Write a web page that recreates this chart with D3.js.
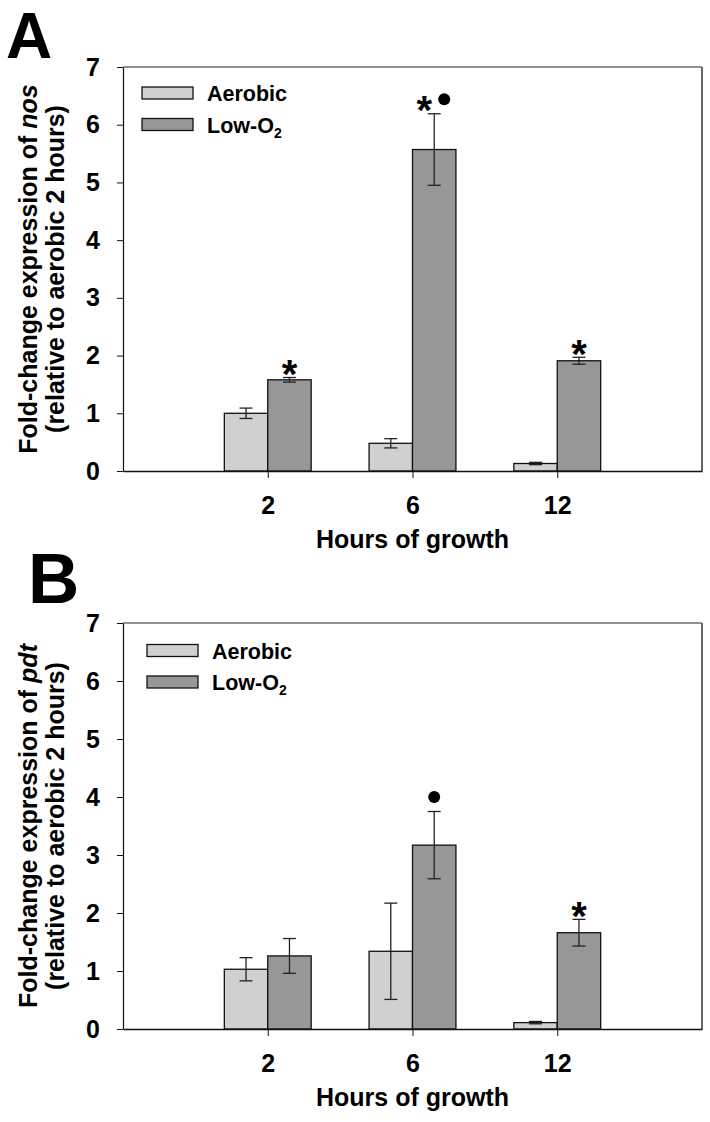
<!DOCTYPE html>
<html>
<head>
<meta charset="utf-8">
<script src="https://cdn.jsdelivr.net/npm/d3@7"></script>
<style>
  html, body { margin: 0; padding: 0; background: #fff; }
  svg { display: block; }
  text { font-family: "Liberation Sans", Arial, sans-serif; font-weight: bold; fill: #000; }
</style>
</head>
<body>
<svg id="chart" width="710" height="1122"></svg>
<script>
// ---- data ----
const categories = ["2", "6", "12"];
const seriesNames = ["Aerobic", "Low-O"];
const yTicks = [0, 1, 2, 3, 4, 5, 6, 7];

const nosAerobic    = [1.00, 0.48, 0.13];
const nosAerobicErr = [0.09, 0.08, 0.02];
const nosLowO2      = [1.58, 5.57, 1.91];
const nosLowO2Err   = [0.04, 0.62, 0.06];
const nosMarks      = [["*"], ["*", "●"], ["*"]];

const pdtAerobic    = [1.03, 1.34, 0.11];
const pdtAerobicErr = [0.20, 0.83, 0.02];
const pdtLowO2      = [1.26, 3.17, 1.66];
const pdtLowO2Err   = [0.30, 0.58, 0.23];
const pdtMarks      = [[], ["●"], ["*"]];

const colors = ["#d0d0d0", "#979797"];

const svg = d3.select("#chart");

function panel(opts) {
  const { top, bottom, label, labelX, labelY, labelSize, gene, aer, aerErr, low, lowErr, marks, legX, legY } = opts;
  const left = 123, right = 702;
  const g = svg.append("g");

  const x = d3.scalePoint().domain(categories).range([left, right]).padding(1);
  const y = d3.scaleLinear().domain([0, 7]).range([bottom, top]);
  const bw = x.step() * 0.3;

  // frame top / right
  g.append("line").attr("x1", left).attr("x2", right).attr("y1", top).attr("y2", top)
    .attr("stroke", "#222").attr("stroke-width", 1.2);
  g.append("line").attr("x1", right).attr("x2", right).attr("y1", top).attr("y2", bottom)
    .attr("stroke", "#666").attr("stroke-width", 2);

  // bars
  const series = [
    { vals: aer, errs: aerErr, off: -bw, color: colors[0] },
    { vals: low, errs: lowErr, off: 0, color: colors[1] }
  ];
  series.forEach(s => {
    g.selectAll(null).data(categories).enter().append("rect")
      .attr("x", (d) => x(d) + s.off)
      .attr("width", bw)
      .attr("y", (d, i) => y(s.vals[i]))
      .attr("height", (d, i) => y(0) - y(s.vals[i]))
      .attr("fill", s.color).attr("stroke", "#111").attr("stroke-width", 1.3);
  });
  // error bars
  series.forEach(s => {
    categories.forEach((c, i) => {
      const cx = x(c) + s.off + bw / 2;
      const y1 = y(s.vals[i] + s.errs[i]), y2 = y(s.vals[i] - s.errs[i]);
      const e = g.append("g").attr("stroke", "#222").attr("stroke-width", 1.3);
      e.append("line").attr("x1", cx).attr("x2", cx).attr("y1", y1).attr("y2", y2);
      e.append("line").attr("x1", cx - 6.5).attr("x2", cx + 6.5).attr("y1", y1).attr("y2", y1);
      e.append("line").attr("x1", cx - 6.5).attr("x2", cx + 6.5).attr("y1", y2).attr("y2", y2);
    });
  });
  // significance marks above Low-O2 bars
  categories.forEach((c, i) => {
    const m = marks[i];
    if (!m.length) return;
    const cx = x(c) + bw / 2;
    const errTop = y(low[i] + lowErr[i]);
    const n = m.length;
    m.forEach((sym, k) => {
      const mx = n === 1 ? cx : cx + (k === 0 ? -10 : 10);
      if (sym === "*") {
        const fs = 40;
        g.append("text").attr("x", mx).attr("y", errTop - 12 + fs * 0.56)
          .attr("text-anchor", "middle").attr("font-size", fs).text("*");
      } else {
        g.append("circle").attr("cx", mx).attr("cy", errTop - 14.5).attr("r", 6).attr("fill", "#000");
      }
    });
  });

  // y axis
  const ya = g.append("g").attr("transform", `translate(${left},0)`)
    .call(d3.axisLeft(y).tickValues(yTicks).tickFormat(d3.format("d")).tickSize(6).tickSizeOuter(0).tickPadding(17));
  ya.select(".domain").attr("stroke", "#111").attr("stroke-width", 1.2);
  ya.selectAll(".tick line").attr("stroke", "#111").attr("stroke-width", 1);
  ya.selectAll(".tick text").attr("font-size", 25).attr("font-family", "Liberation Sans, Arial, sans-serif")
    .attr("font-weight", "bold").attr("fill", "#000");

  // x axis
  const xa = g.append("g").attr("transform", `translate(0,${bottom})`)
    .call(d3.axisBottom(x).tickSize(7).tickSizeOuter(0).tickPadding(18));
  xa.select(".domain").attr("stroke", "#111").attr("stroke-width", 1.6);
  xa.selectAll(".tick line").attr("stroke", "#111").attr("stroke-width", 1);
  xa.selectAll(".tick text").attr("font-size", 25).attr("font-family", "Liberation Sans, Arial, sans-serif")
    .attr("font-weight", "bold").attr("fill", "#000");

  // x title
  g.append("text").attr("x", x("6")).attr("y", bottom + 77).attr("text-anchor", "middle")
    .attr("font-size", 25).text("Hours of growth");

  // y title (two lines)
  const cy = (top + bottom) / 2;
  const t1 = g.append("text").attr("transform", `translate(37,${cy}) rotate(-90)`)
    .attr("text-anchor", "middle").attr("font-size", 25);
  t1.append("tspan").text("Fold-change expression of ");
  t1.append("tspan").attr("font-style", "italic").text(gene);
  g.append("text").attr("transform", `translate(64,${cy}) rotate(-90)`)
    .attr("text-anchor", "middle").attr("font-size", 25).text("(relative to aerobic 2 hours)");

  // legend
  const lg = g.append("g").attr("transform", `translate(${legX},${legY})`);
  seriesNames.forEach((name, i) => {
    const yy = i * 31.5;
    lg.append("rect").attr("x", 0).attr("y", yy).attr("width", 51).attr("height", 12)
      .attr("fill", colors[i]).attr("stroke", "#111").attr("stroke-width", 1.3);
    const t = lg.append("text").attr("x", 65).attr("y", yy + 14).attr("font-size", 21.5).text(name);
    if (i === 1) t.append("tspan").attr("font-size", 14).attr("dy", 5).text("2");
  });

  // panel label
  svg.append("text").attr("x", labelX).attr("y", labelY).attr("font-size", labelSize).text(label);
}

panel({ top: 67, bottom: 471, label: "A", labelX: 6, labelY: 58, labelSize: 64, gene: "nos",
  aer: nosAerobic, aerErr: nosAerobicErr, low: nosLowO2, lowErr: nosLowO2Err, marks: nosMarks,
  legX: 142, legY: 87 });
panel({ top: 623, bottom: 1029, label: "B", labelX: 28, labelY: 603, labelSize: 71, gene: "pdt",
  aer: pdtAerobic, aerErr: pdtAerobicErr, low: pdtLowO2, lowErr: pdtLowO2Err, marks: pdtMarks,
  legX: 147, legY: 644.5 });
</script>
</body>
</html>
